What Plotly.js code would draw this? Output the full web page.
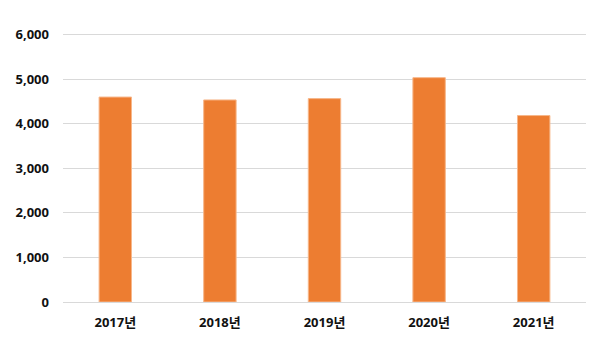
<!DOCTYPE html>
<html>
<head>
<meta charset="utf-8">
<script src="https://cdn.plot.ly/plotly-3.0.1.min.js"></script>
<style>html,body{margin:0;padding:0;background:#fff;}#chart{width:611px;height:362px;}</style>
</head>
<body>
<div id="chart"></div>
<script>
const categories = ["2017년", "2018년", "2019년", "2020년", "2021년"];
const values = [4600, 4535, 4565, 5035, 4185];
const yTickVals = [0, 1000, 2000, 3000, 4000, 5000, 6000];
const yTickText = ["0", "1,000", "2,000", "3,000", "4,000", "5,000", "6,000"];

const fontFamily = "'Open Sans', 'Noto Sans CJK KR', 'Noto Sans', sans-serif";

Plotly.newPlot("chart", [{
  type: "bar",
  x: categories,
  y: values,
  marker: {color: "#ED7D31", line: {color: "#F7B78A", width: 1}},
  hoverinfo: "none"
}], {
  width: 611, height: 362,
  margin: {l: 63, r: 25, t: 32, b: 59.5},
  paper_bgcolor: "#fff", plot_bgcolor: "#fff",
  bargap: 0.69,
  showlegend: false,
  xaxis: {
    type: "category",
    showgrid: false,
    showline: false,
    zeroline: false,
    ticks: "",
    ticklabelstandoff: 11,
    tickfont: {family: fontFamily, size: 13, color: "#111", weight: "bold"}
  },
  yaxis: {
    range: [0, 6060],
    tickvals: yTickVals,
    ticktext: yTickText,
    showgrid: true,
    gridcolor: "#d9d9d9",
    gridwidth: 1,
    zeroline: true,
    zerolinecolor: "#d9d9d9",
    zerolinewidth: 1,
    showline: false,
    ticks: "",
    ticklabelstandoff: 13,
    tickfont: {family: fontFamily, size: 13, color: "#111", weight: "bold"}
  }
}, {displayModeBar: false, staticPlot: true});
</script>
</body>
</html>
